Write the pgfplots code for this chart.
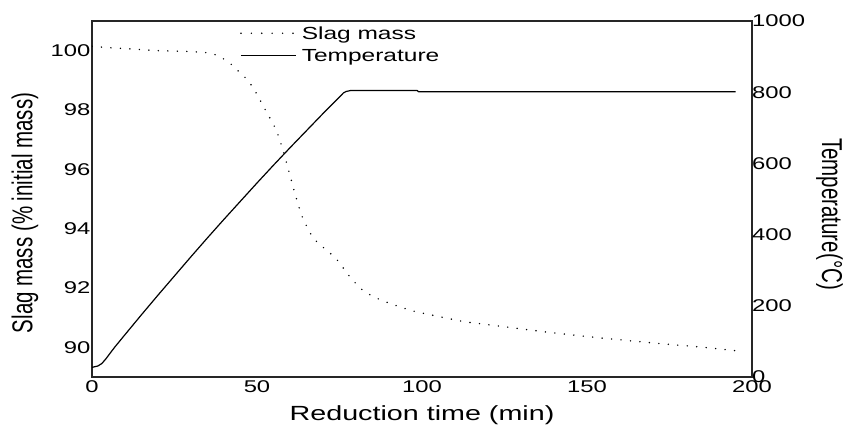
\documentclass[border=0pt]{standalone}
\usepackage{fontspec}
\setmainfont{Liberation Sans}[FakeStretch=1.4]
\newfontfamily\plainsans{Liberation Sans}
\newfontfamily\tickfont{Liberation Sans}[FakeStretch=1.4]
\usepackage{graphicx}
\usepackage{pgfplots}
\pgfplotsset{compat=1.18}

% slag mass (% of initial mass) against reduction time (min)
\pgfplotstableread{
t m
0 100.15
5 100.10
10 100.07
20 100.00
30 99.97
35 99.93
37.8 99.85
41.3 99.63
43.8 99.37
46.2 99.12
47.9 98.90
49.4 98.64
50.9 98.34
52.1 98.09
53.4 97.83
54.8 97.55
56.0 97.29
57.0 96.95
58.0 96.60
59.0 96.20
60.0 95.80
61.2 95.30
62.5 94.80
64.0 94.30
66.6 93.76
68.4 93.52
71.3 93.26
73.9 93.00
75.7 92.74
77.4 92.48
79.2 92.24
81.4 91.98
84.5 91.75
87.6 91.59
90.8 91.46
93.9 91.34
97.1 91.23
100.3 91.15
106.7 91.00
112.9 90.86
122.4 90.73
138.0 90.51
153.8 90.32
169.7 90.15
185.4 90.00
194.8 89.89
}\slagtable

% furnace temperature (deg C) against reduction time (min)
\pgfplotstableread{
t T
0 27
1.8 31
3.0 38
4.3 52
5.5 67
6.9 84
10 119
15 175
20 230
25 284
30 338
35 391
40 443
45 494
50 545
55 595
60 644
65 692
70 740
74 777
76.2 798
77.0 802
78.5 805
98.5 805
99.0 801
195.0 801
}\temptable

\pgfplotsset{
  twin/.style={
    scale only axis, width=660pt, height=356pt,
    xmin=0, xmax=200,
    major tick length=0pt,
    xticklabel={\pgfmathprintnumber[assume math mode=true]{\tick}},
    yticklabel={\pgfmathprintnumber[assume math mode=true]{\tick}},
    tick label style={font=\tickfont\fontsize{17}{20}\selectfont, inner sep=0pt},
    /pgf/number format/1000 sep={},
    axis line style={line width=1.3pt, black!85},
  },
  dotstyle/.style={black, line width=1.6pt, line cap=round, dash pattern=on 0pt off 9.5pt},
}

\begin{document}
\begin{tikzpicture}
\useasboundingbox (-92pt,-47pt) rectangle (751pt,377pt);
\begin{axis}[
  twin,
  ymin=89, ymax=101,
  xtick={0,50,...,200},
  ytick={90,92,...,100},
  xticklabel style={anchor=north, yshift=-3pt},
  yticklabel style={anchor=east, xshift=-1.5pt},
  xlabel={Reduction time (min)},
  ylabel={\fontsize{20.5}{24}\selectfont\plainsans\scalebox{1}[1.4]{Slag mass (\% initial mass)}},
  every axis x label/.style={at={(axis description cs:0.5,0)}, anchor=base,
    yshift=-43.5pt, font=\fontsize{20.5}{24}\selectfont},
  every axis y label/.style={at={(axis description cs:0,0.4607)}, xshift=-59.7pt,
    anchor=base, rotate=90},
]
\addplot[dotstyle] table[x=t, y=m] {\slagtable};
\end{axis}

\begin{axis}[
  twin,
  ymin=0, ymax=1000,
  axis y line*=right, axis x line=none,
  ytick={0,200,...,1000},
  yticklabel style={anchor=west, xshift=0pt},
  ylabel={\fontsize{20.5}{24}\selectfont\plainsans\scalebox{1}[1.4]{Temperature(°C)}},
  every axis y label/.style={at={(axis description cs:1,0.458)}, xshift=70pt,
    anchor=base, rotate=-90},
  legend cell align=left,
  legend image code/.code={\draw[#1] (0pt,0pt) -- (55pt,0pt);},
  legend style={at={(axis description cs:0.2242,0.9844)}, anchor=north west,
    draw=none, fill=none, inner sep=0pt, row sep=9.2pt, column sep=5pt,
    font=\fontsize{17.5}{21}\selectfont,
    nodes={inner sep=0pt, text height=13pt, text depth=0pt}},
]
\addlegendimage{black, line width=1.6pt, line cap=round, dash pattern=on 0pt off 10.4pt}
\addlegendentry{Slag mass}
\addplot[black, line width=1.2pt] table[x=t, y=T] {\temptable};
\addlegendentry{Temperature}
\end{axis}
\end{tikzpicture}
\end{document}
